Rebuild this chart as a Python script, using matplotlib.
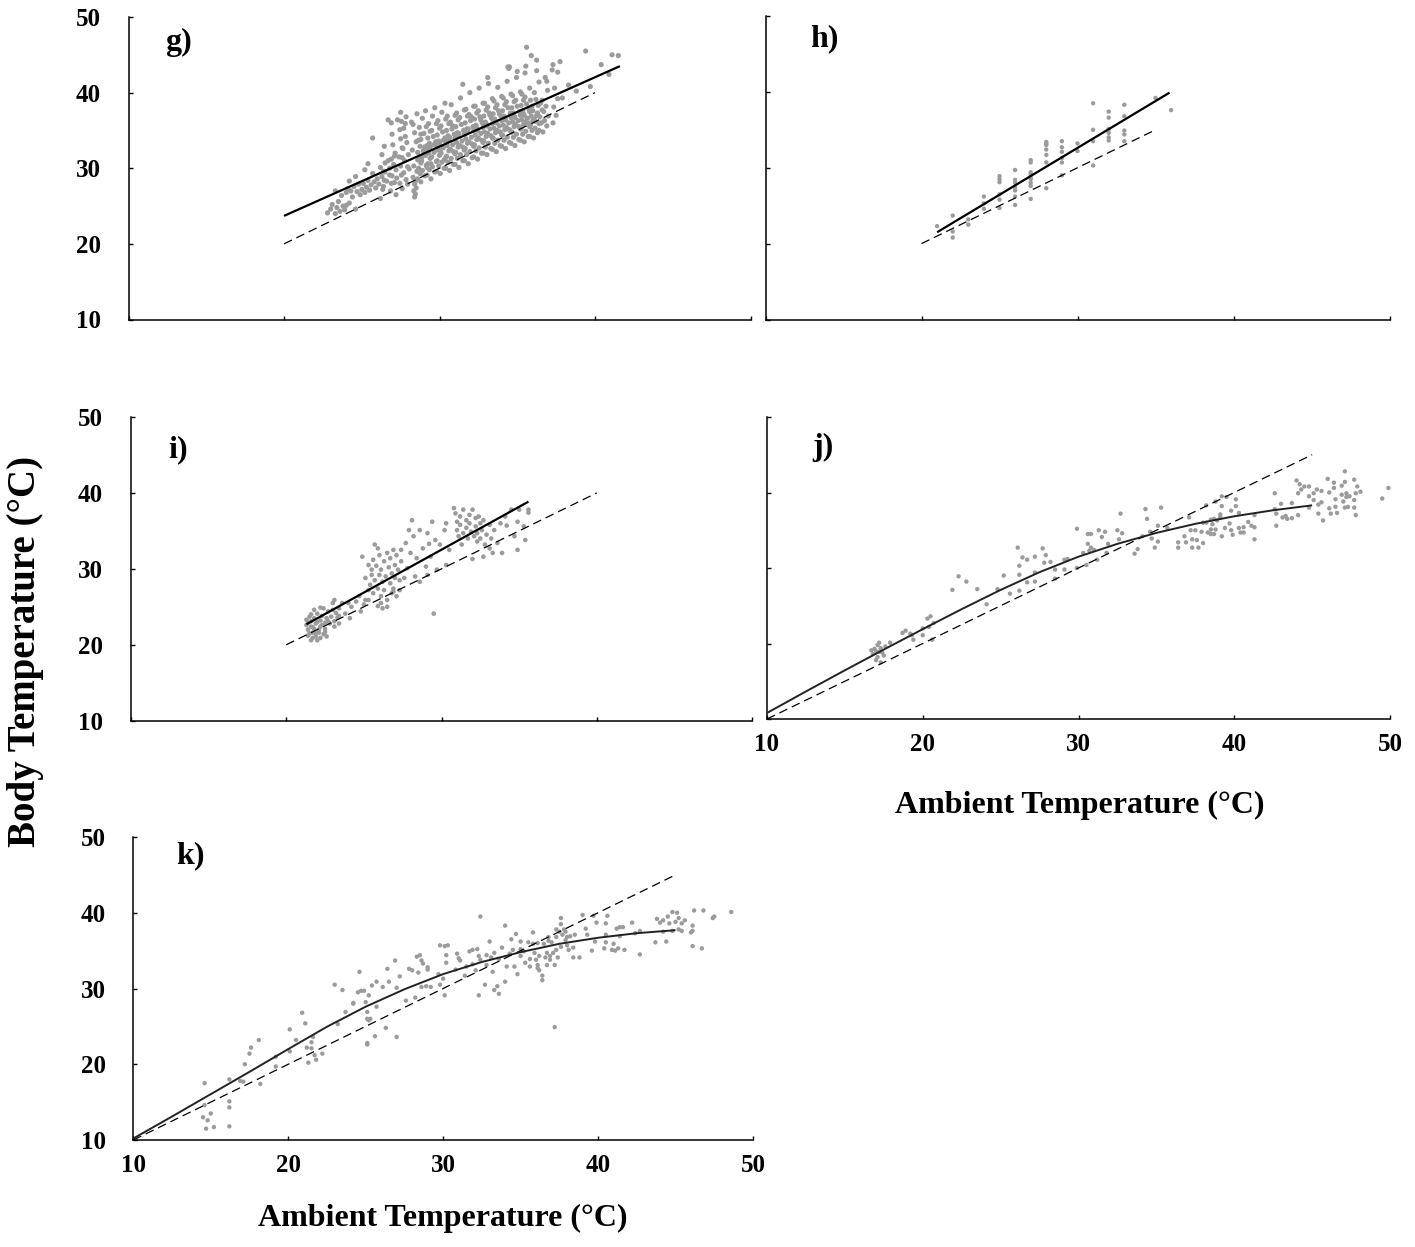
import matplotlib
matplotlib.use("Agg")
import matplotlib.pyplot as plt

plt.rcParams['font.family'] = ['Liberation Serif', 'DejaVu Serif']
plt.rcParams['font.weight'] = 'bold'

# ---------------- data ----------------
# g) ambient vs body temperature
g_ta = [22.8,23.0,23.1,23.3,23.4,23.5,23.6,23.7,23.8,23.9,
        24.0,24.1,24.2,24.3,24.4,24.5,24.6,24.7,24.8,24.9,
        25.0,25.1,25.2,25.3,25.4,25.5,25.6,25.7,25.8,25.9,
        26.0,26.1,26.2,26.3,26.4,26.5,26.6,26.7,26.8,26.9,
        24.2,24.6,25.2,25.7,26.7,27.5,25.4,23.3,24.0,26.2,
        26.85,27.1,26.95,27.2,27.05,26.9,27.15,27.0,26.8,27.25,27.1,26.95,27.2,
        27.6,27.85,27.7,27.95,27.75,28.0,27.65,27.9,27.8,27.7,28.05,27.6,27.85,27.95,
        28.4,28.45,28.35,28.5,28.4,28.45,28.3,28.55,28.35,28.6,28.25,28.5,28.4,28.3,28.55,
        28.8,29.05,28.9,29.15,28.85,29.1,28.95,29.2,28.8,29.0,29.15,28.9,29.1,29.2,28.85,29.05,
        29.45,29.7,29.55,29.8,29.5,29.65,29.4,29.75,29.6,29.5,29.8,29.55,29.7,29.45,29.65,
        30.05,30.3,30.15,30.4,30.1,30.25,30.0,30.35,30.2,30.1,30.4,30.15,30.3,30.05,30.25,30.35,
        30.65,30.9,30.75,31.0,30.7,30.85,30.6,30.95,30.8,30.7,31.0,30.75,30.9,30.65,30.85,
        31.25,31.5,31.35,31.6,31.3,31.45,31.2,31.55,31.4,31.3,31.6,31.35,31.5,31.25,
        31.85,32.1,31.95,32.2,31.9,32.05,31.8,32.15,32.0,31.9,32.2,31.95,32.1,31.85,32.05,
        32.45,32.7,32.55,32.8,32.5,32.65,32.4,32.75,32.6,32.5,32.8,32.55,32.7,32.45,32.65,
        33.05,33.3,33.15,33.4,33.1,33.25,33.0,33.35,33.2,33.1,33.4,33.15,33.3,33.05,33.25,
        33.65,33.9,33.75,34.0,33.7,33.85,33.6,33.95,33.8,33.7,34.0,33.75,33.9,33.65,33.85,
        34.25,34.5,34.35,34.6,34.3,34.45,34.2,34.55,34.4,34.3,34.6,34.35,34.5,34.25,34.45,
        34.85,35.1,34.95,35.2,34.9,35.05,34.8,35.15,35.0,34.9,35.2,34.95,35.1,34.85,
        35.45,35.7,35.55,35.8,35.5,35.65,35.4,35.75,35.6,35.5,35.8,35.55,35.7,35.45,
        36.05,36.3,36.15,36.4,36.1,36.25,36.0,36.35,36.2,36.1,36.4,36.15,36.3,
        36.65,36.9,36.75,37.0,36.7,36.85,36.6,36.95,36.8,
        37.3,37.5,37.35,37.6,37.4,37.25,
        35.6,35.9,36.25,37.3,37.75,37.6,39.4,41.1,41.5,40.4,40.9,39.7,36.9,38.3,38.8,37.9,
        26.9,27.3,27.8,28.2,33.1,31.5,34.4,34.5,35.0,35.5,36.25,
        # dense core, second pass
        26.35,26.45,26.4,26.5,26.3,26.45,
        27.45,27.55,27.5,27.4,27.6,27.5,27.45,27.55,
        28.6,28.75,28.65,28.8,28.7,28.6,28.75,28.65,28.8,28.7,
        29.2,29.35,29.25,29.4,29.3,29.2,29.35,29.25,29.4,29.3,
        29.8,29.95,29.85,30.0,29.9,29.8,29.95,29.85,30.0,29.9,
        30.4,30.55,30.45,30.6,30.5,30.4,30.55,30.45,30.6,30.5,
        31.0,31.15,31.05,31.2,31.1,31.0,31.15,31.05,31.2,31.1,
        31.6,31.75,31.65,31.8,31.7,31.6,31.75,31.65,31.8,31.7,
        32.2,32.35,32.25,32.4,32.3,32.2,32.35,32.25,32.4,32.3,
        32.8,32.95,32.85,33.0,32.9,32.8,32.95,32.85,33.0,32.9,
        33.4,33.55,33.45,33.6,33.5,33.4,33.55,33.45,33.6,33.5,
        34.0,34.15,34.05,34.2,34.1,34.0,34.15,34.05,34.2,34.1,
        34.6,34.75,34.65,34.8,34.7,34.6,34.75,34.65,34.8,34.7,
        35.2,35.35,35.25,35.4,35.3,35.2,35.35,35.25,35.4,35.3,
        35.8,35.95,35.85,36.0,35.9,35.8,35.95,35.85,
        36.4,36.55,36.45,36.6,36.5]
g_tb = [24.1,24.6,25.2,24.0,24.8,25.6,24.3,26.4,25.0,24.5,
        26.8,27.3,25.4,27.0,26.2,27.6,24.6,26.9,27.9,26.5,
        27.2,28.0,26.8,27.5,28.4,27.1,27.8,29.3,28.2,27.4,
        28.6,27.9,30.1,28.9,27.6,29.5,28.3,31.0,29.1,28.0,
        28.3,28.9,29.8,34.0,36.4,37.4,30.6,27.0,25.1,26.0,
        27.0,28.1,29.0,29.8,30.5,31.2,32.0,33.1,30.0,28.7,31.6,34.5,26.5,
        27.3,28.5,29.4,30.2,31.0,31.8,32.6,33.4,34.2,35.3,29.9,31.4,36.8,27.9,
        26.2,26.6,27.0,27.4,27.9,28.3,28.8,29.6,30.3,31.1,32.4,33.5,34.7,35.8,37.2,
        28.2,29.0,29.7,30.4,31.0,31.7,32.3,33.0,33.8,34.6,35.5,36.6,37.6,30.1,31.4,32.8,
        28.6,29.5,30.2,30.9,31.5,32.1,32.8,33.5,34.2,35.0,35.9,36.9,38.0,30.6,33.1,
        29.3,30.0,30.8,31.4,32.0,32.7,33.3,34.0,34.8,35.6,36.5,37.4,31.1,32.4,33.7,38.6,
        29.7,30.5,31.3,31.9,32.5,33.1,33.8,34.5,35.2,36.1,37.0,38.4,32.2,34.1,35.6,
        30.1,31.0,31.8,32.4,33.0,33.6,34.3,35.0,35.8,36.7,37.7,39.3,32.8,34.6,
        30.6,31.4,32.2,32.9,33.5,34.1,34.8,35.5,36.3,37.1,38.2,40.0,33.2,35.2,36.8,
        31.2,32.0,32.7,33.4,34.0,34.6,35.3,36.0,36.8,37.6,38.6,40.6,33.7,35.0,36.4,
        31.8,32.6,33.3,34.0,34.6,35.2,35.9,36.6,37.3,38.1,39.2,41.2,34.3,35.6,37.0,
        32.2,33.0,33.7,34.4,35.0,35.6,36.2,36.9,37.6,38.4,39.5,40.7,34.8,36.0,37.2,
        32.6,33.4,34.1,34.8,35.4,36.0,36.6,37.3,38.0,38.8,39.8,41.5,35.1,36.4,43.2,
        33.0,33.8,34.5,35.2,35.8,36.3,36.9,37.5,38.2,39.0,40.1,42.0,35.5,36.7,
        33.5,34.2,34.9,35.5,36.1,36.6,37.2,37.8,38.5,39.4,40.6,43.5,36.0,37.0,
        34.0,34.7,35.3,35.9,36.5,37.0,37.6,38.3,39.1,40.0,41.4,36.2,37.3,
        34.8,35.6,36.3,36.9,37.5,38.2,39.0,40.3,42.0,
        36.0,37.0,38.1,39.2,40.6,43.0,
        46.0,44.9,44.3,43.7,44.1,42.7,45.5,45.0,44.9,43.7,42.4,40.8,41.5,41.0,40.2,39.3,
        36.0,36.4,35.9,36.1,42.0,41.1,43.4,43.4,42.8,42.6,42.9,
        # dense core, second pass
        27.2,28.4,29.6,30.7,31.8,32.9,
        28.0,29.1,30.3,31.5,32.7,33.9,35.1,36.2,
        28.6,29.3,30.0,30.7,31.4,32.1,32.9,33.7,34.5,35.4,
        29.1,29.8,30.6,31.3,32.0,32.6,33.3,34.0,34.9,35.9,
        29.6,30.3,31.0,31.7,32.4,33.0,33.6,34.4,35.3,36.3,
        30.0,30.8,31.6,32.3,33.0,33.6,34.3,35.0,35.9,36.9,
        30.5,31.3,32.1,32.8,33.4,34.0,34.7,35.5,36.4,37.3,
        31.0,31.8,32.6,33.3,33.9,34.5,35.2,36.0,36.9,37.8,
        31.5,32.3,33.1,33.8,34.4,35.0,35.7,36.5,37.3,38.2,
        32.0,32.8,33.6,34.2,34.8,35.4,36.1,36.9,37.7,38.6,
        32.5,33.3,34.0,34.7,35.3,35.9,36.5,37.2,38.0,38.9,
        32.9,33.7,34.4,35.1,35.7,36.3,36.9,37.6,38.4,39.3,
        33.3,34.1,34.8,35.5,36.1,36.7,37.3,38.0,38.8,39.6,
        33.7,34.5,35.2,35.8,36.4,37.0,37.6,38.3,39.0,39.8,
        34.2,35.0,35.7,36.3,36.9,37.5,38.2,39.0,
        35.0,36.0,36.8,37.7,38.6]
g_fit_ta = [20.0, 41.6]
g_fit_tb = [23.7, 43.5]
g_iso = [20.0, 40.0]

# h)
h_ta = [21, 22, 22, 22, 23, 23, 24, 24, 24,
        25, 25, 25, 25, 25, 25,
        26, 26, 26, 26, 26, 26, 26,
        27, 27, 27, 27, 27, 27, 27, 27, 27,
        28, 28, 28, 28, 28, 28, 28,
        29, 29, 29, 29, 29, 29,
        30, 30, 31, 31, 31, 31,
        32, 32, 32, 32, 32, 32,
        33, 33, 33, 33, 33, 35, 36]
h_tb = [22.3, 23.7, 21.6, 20.8, 23.2, 22.5, 26.2, 25.3, 24.6,
        28.9, 28.5, 28.1, 26.5, 25.8, 24.7,
        29.7, 28.4, 28.0, 27.4, 27.0, 26.2, 25.1,
        31.0, 30.7, 29.4, 29.1, 28.7, 28.5, 28.0, 27.6, 25.9,
        33.4, 33.2, 33.0, 32.4, 31.7, 30.7, 27.3,
        33.5, 32.7, 32.1, 31.3, 30.7, 29.0,
        33.2, 32.2, 38.5, 35.0, 33.5, 30.3,
        37.4, 36.6, 35.1, 34.6, 34.0, 33.6,
        38.3, 36.8, 34.9, 34.4, 33.5, 39.2, 37.6]
h_fit_ta = [21.0, 35.9]
h_fit_tb = [21.5, 39.9]
h_iso = [20.0, 35.0]

# i)
i_ta = [21.3,21.3,21.4,21.4,21.5,21.6,21.6,21.7,21.7,21.8,
        21.8,21.8,21.9,21.9,22.0,22.0,22.1,22.2,22.2,22.2,
        22.3,22.4,22.4,22.5,22.5,22.6,22.6,22.7,22.8,22.9,
        23.0,23.1,23.1,23.2,23.3,23.4,23.4,23.0,22.2,21.6,
        21.4,21.5,21.7,21.9,22.0,22.1,22.3,22.5,22.7,21.6,
        23.6,23.8,24.0,24.2,24.5,24.7,24.8,25.0,25.1,24.1,23.1,23.4,
        25.3,25.3,25.4,25.5,25.5,25.6,25.6,25.7,25.7,25.8,
        25.9,25.9,26.0,26.0,26.1,26.1,26.2,26.2,26.3,26.3,
        26.4,26.5,26.5,26.6,26.7,26.7,26.8,26.8,26.9,26.9,
        27.0,27.0,27.1,27.1,27.2,27.3,27.3,27.4,24.9,25.1,
        26.1,26.5,26.9,25.9,25.3,
        27.6,27.7,27.8,28.0,28.1,28.2,28.3,28.4,28.6,28.6,
        28.8,29.0,29.1,29.2,29.3,29.4,29.5,29.6,29.7,29.9,
        30.2,30.3,30.3,30.5,27.9,27.4,29.1,
        30.8,30.9,31.0,31.0,31.1,31.2,31.2,31.3,31.4,31.4,
        31.6,31.6,31.7,31.8,31.8,31.9,32.0,32.0,32.1,32.2,
        32.2,32.3,32.3,32.4,32.5,32.5,32.6,32.7,32.7,32.8,
        32.9,33.1,33.1,33.2,33.3,33.4,
        33.6,33.8,33.9,34.1,34.2,34.5,34.7,34.9,34.9,35.0,35.3,35.4,35.6,35.6]
i_tb = [23.3,22.6,22.0,21.2,23.7,23.1,22.4,21.6,20.9,24.6,
        23.5,22.1,21.1,22.8,20.6,24.1,21.6,23.2,20.9,22.4,
        23.8,21.4,24.8,22.9,22.1,23.5,21.1,24.4,22.8,23.7,
        24.6,23.1,22.4,24.2,23.6,24.8,22.8,25.5,24.9,20.6,
        22.9,21.5,22.3,21.5,23.0,22.0,22.6,21.7,23.1,24.0,
        25.5,24.1,25.5,25.0,25.7,26.4,24.4,25.3,25.9,23.5,25.9,23.8,
        27.2,25.9,27.9,29.2,29.9,31.2,26.8,28.5,33.2,30.4,
        25.1,27.4,29.2,31.8,26.4,29.9,28.3,24.8,31.0,27.2,
        29.0,32.1,25.9,30.2,28.1,31.4,26.8,29.4,32.5,27.4,
        30.5,28.8,26.4,31.8,29.9,27.2,28.5,31.0,31.6,28.8,
        25.5,25.0,27.0,32.7,30.5,
        28.8,33.4,30.1,32.1,36.4,34.3,29.0,31.4,28.3,35.1,
        32.7,30.3,34.7,33.3,31.6,36.2,24.1,33.8,29.9,33.2,
        35.1,36.0,30.5,32.5,35.1,32.5,29.2,
        38.0,37.3,36.2,35.1,34.3,36.9,35.8,33.2,37.8,34.7,
        36.4,35.4,34.0,37.1,36.0,34.9,37.8,31.3,34.3,36.7,
        35.6,33.6,34.7,36.9,36.0,34.0,35.1,31.6,36.4,33.2,
        34.5,32.7,35.8,34.0,32.1,35.1,
        33.4,36.0,32.1,36.9,35.7,37.8,34.3,36.2,32.5,37.8,35.6,33.8,37.4,37.8]
i_fit_ta = [21.3, 35.6]
i_fit_tb = [22.7, 38.85]
i_iso = [20.0, 40.0]

# j)
j_ta = [17.0,16.8,17.1,17.3,17.2,16.9,17.4,17.0,17.3,17.1,16.7,17.5,17.2,17.6,17.9,
        18.7,19.3,19.4,20.0,20.0,20.3,20.5,20.4,20.7,20.6,18.9,19.2,
        21.9,22.3,22.8,23.5,24.1,24.8,25.2,25.6,26.1,26.2,26.2,26.2,26.4,26.7,26.7,
        27.2,27.2,27.2,27.7,27.9,27.8,28.2,28.5,28.5,29.1,29.3,29.1,29.9,29.9,
        30.5,30.6,30.8,30.6,30.8,30.7,31.0,30.3,31.3,31.5,31.7,31.8,31.9,31.2,
        32.5,32.7,32.6,32.8,33.6,33.8,34.1,34.3,34.4,34.6,34.7,34.9,35.1,35.1,35.3,35.7,
        36.4,36.4,36.8,36.9,37.1,37.2,37.3,37.3,37.5,37.6,37.7,37.9,38.0,38.0,
        38.2,38.2,38.3,38.5,38.5,38.5,38.6,38.8,38.7,38.8,38.7,38.9,39.1,39.2,39.2,39.1,
        39.2,39.5,39.4,39.7,39.8,39.8,39.9,40.1,40.1,40.3,40.3,40.4,40.6,40.6,40.9,41.1,
        41.3,41.3,41.3,42.6,42.6,42.7,42.7,43.0,43.1,43.3,43.4,43.7,43.7,44.0,44.1,44.1,
        44.2,44.3,44.5,44.8,44.8,44.8,45.1,45.1,45.3,45.4,45.4,45.6,45.6,45.7,46.0,46.1,
        46.1,46.2,46.4,46.4,46.5,46.5,46.6,46.9,46.9,47.0,47.1,47.1,47.1,47.2,47.2,47.3,
        47.4,47.7,47.7,47.7,47.8,47.8,47.9,48.1,49.5,49.9]
j_tb = [19.0,18.6,18.2,19.4,20.1,19.3,18.8,17.8,17.5,19.8,19.1,18.4,18.9,19.6,20.1,
        21.4,21.1,20.5,22.0,21.1,23.3,23.6,22.2,22.7,20.5,21.7,21.3,
        27.1,28.9,28.2,27.2,25.2,27.2,29.0,26.6,32.7,30.3,29.1,27.0,31.4,31.1,28.1,
        31.5,29.4,28.2,32.6,31.7,30.7,30.8,29.8,28.6,31.1,31.2,29.8,35.2,30.0,
        30.4,34.5,34.5,33.2,32.7,32.3,32.4,32.0,35.0,34.1,34.8,32.0,33.2,31.1,
        35.0,37.2,33.8,34.6,31.9,32.5,34.2,37.8,36.5,34.8,33.9,32.7,35.6,33.5,38.0,35.3,
        33.4,32.7,34.2,33.4,36.7,35.0,33.8,32.7,35.0,33.7,32.7,34.8,33.3,36.0,
        38.3,36.0,34.7,35.1,36.4,34.5,35.8,38.8,36.5,35.1,34.5,36.3,37.1,39.5,38.2,36.7,
        34.2,39.4,35.3,35.9,37.6,35.0,34.4,39.1,38.2,35.3,37.3,34.7,35.4,34.7,36.1,35.6,
        33.8,35.4,37.0,39.9,37.8,37.2,35.6,38.5,36.7,36.9,36.5,36.6,38.6,41.6,39.9,37.0,
        41.1,40.4,40.8,40.8,39.5,38.0,39.0,39.9,40.4,38.4,37.2,40.2,38.7,36.3,41.8,40.0,
        37.9,37.2,41.3,40.6,39.1,38.1,37.3,40.9,39.7,38.8,38.0,42.8,41.4,39.9,39.4,38.1,
        39.5,41.7,39.0,38.0,37.0,39.9,40.8,40.1,39.2,40.6]
j_curve_ta = [10.0, 12.5, 15.0, 17.5, 20.0, 22.5, 25.0, 27.5, 30.0,
              32.5, 35.0, 37.5, 40.0, 42.5, 45.0]
j_curve_tb = [10.8, 13.65, 16.45, 19.2, 21.9, 24.55, 27.1, 29.45, 31.5,
              33.2, 34.65, 35.85, 36.85, 37.65, 38.3]
j_iso = [10.0, 45.0]

# k)
k_ta = [14.6,14.5,14.8,15.0,14.7,15.2,14.6,16.2,16.2,16.2,16.2,16.9,17.1,17.2,17.5,17.6,
        18.1,18.2,19.2,19.2,20.1,20.1,20.5,20.9,21.1,21.2,21.3,21.5,21.5,21.6,21.7,21.8,22.2,
        23.0,23.2,23.5,23.7,24.2,24.2,24.5,24.6,24.7,24.9,25.0,25.1,25.1,25.1,25.1,25.2,
        25.2,25.3,25.4,25.6,25.7,25.7,26.1,26.3,26.4,26.5,26.9,27.0,27.0,27.2,27.6,27.8,
        28.0,28.2,28.3,28.4,28.5,28.6,28.6,28.7,28.9,29.0,29.0,29.2,29.7,29.8,29.8,30.1,
        30.1,30.2,30.3,30.2,30.0,
        30.9,31.0,31.1,30.8,31.4,31.5,31.7,31.9,31.9,32.2,32.1,32.3,32.3,32.4,32.4,32.7,
        32.8,32.8,33.0,33.1,33.2,33.3,33.3,33.5,33.6,33.6,33.8,34.0,34.0,34.1,34.3,34.4,
        34.5,34.6,34.7,34.8,35.0,35.0,35.0,35.2,35.3,35.5,35.6,35.6,35.8,35.8,35.9,36.0,
        36.1,36.1,36.1,36.2,36.2,36.4,36.4,36.5,36.6,36.7,36.7,36.8,36.8,36.9,36.9,37.0,
        37.1,37.2,37.2,37.3,37.3,37.3,37.4,37.5,37.6,37.6,37.6,37.7,37.8,37.9,37.9,38.0,
        38.0,38.1,38.2,38.4,38.4,38.5,38.8,39.0,39.2,39.3,39.6,39.7,39.8,39.9,
        40.4,40.5,40.5,40.5,40.6,40.9,41.0,41.1,41.2,41.3,41.4,41.4,41.6,41.7,
        42.2,42.4,42.7,42.7,43.7,43.8,44.0,44.2,44.2,44.4,44.5,44.6,44.8,44.8,45.0,45.1,
        45.2,45.2,45.4,45.4,45.6,46.0,46.1,46.1,46.1,46.2,46.7,46.8,47.4,47.5,48.6]
k_tb = [17.5,13.0,12.6,13.5,11.5,11.7,14.6,18.0,15.1,14.3,11.8,17.8,17.7,20.0,21.4,22.2,
        23.2,17.4,21.0,19.7,21.7,24.6,23.2,26.8,25.4,22.2,20.2,22.1,22.9,23.6,21.2,20.6,21.4,
        30.5,25.3,29.8,26.9,28.1,28.0,29.5,32.2,29.7,29.7,28.2,26.9,26.0,22.8,22.6,25.8,
        29.1,26.0,30.4,23.7,27.6,30.9,30.2,24.8,32.6,30.9,33.7,30.1,23.6,31.6,28.4,32.6,
        32.4,28.8,34.2,32.1,34.4,33.7,30.2,33.3,30.3,32.8,32.5,30.2,31.9,35.7,30.5,35.6,
        29.1,34.4,35.7,33.4,31.3,
        34.6,34.0,33.7,32.5,31.7,32.9,34.9,33.2,35.1,35.2,32.4,34.3,29.1,39.5,33.8,30.5,
        34.4,33.1,36.2,34.1,32.2,34.7,29.8,30.3,29.3,33.9,35.4,38.3,30.9,32.9,34.6,36.5,
        35.1,32.9,37.2,31.9,36.2,35.2,34.3,34.9,33.4,36.1,33.9,32.9,37.4,35.9,34.7,33.8,
        32.7,33.1,36.0,34.3,32.4,31.7,31.1,35.9,34.1,33.1,34.7,36.3,36.8,34.3,33.8,36.1,
        34.7,24.9,33.1,37.8,35.1,36.8,34.1,37.5,39.3,38.5,35.5,37.1,37.8,36.4,37.5,35.7,
        36.8,35.1,36.9,35.4,34.1,37.1,34.1,39.7,37.9,37.1,35.0,39.6,36.2,38.7,
        35.3,38.6,36.1,37.1,39.6,35.1,35.9,35.0,37.9,35.3,38.1,36.9,38.1,35.1,
        38.7,37.3,37.6,34.5,36.1,39.2,38.7,37.5,39.0,36.2,39.5,38.6,40.1,37.6,38.8,40.0,
        39.3,37.8,38.6,37.6,39.0,37.4,37.6,38.3,35.6,40.3,35.3,40.3,39.3,39.5,40.1]
k_curve_ta = [10.0, 12.5, 15.0, 17.5, 20.0, 22.5, 25.0, 27.5, 30.0,
              32.5, 35.0, 37.5, 40.0, 42.5, 45.0]
k_curve_tb = [10.2, 13.1, 16.05, 19.0, 22.0, 24.95, 27.6, 29.9, 31.9,
              33.5, 34.8, 35.9, 36.7, 37.3, 37.7]
k_iso = [10.0, 45.0]

ticks = [10, 20, 30, 40, 50]
tick_labels = ['10', '20', '30', '40', '50']

# ---------------- figure ----------------
W, H = 1415, 1247
fig = plt.figure(figsize=(W / 100, H / 100), dpi=100)

POINT_COLOR = '#9b9b9b'
TICK_FS = 18


def make_axes(left, top, right, bottom):
    return fig.add_axes([left / W, 1 - bottom / H, (right - left) / W, (bottom - top) / H])


def style(ax, show_x, show_y):
    ax.set_xlim(10, 50)
    ax.set_ylim(10, 50)
    for side in ('top', 'right'):
        ax.spines[side].set_visible(False)
    for side in ('left', 'bottom'):
        ax.spines[side].set_linewidth(1.1)
        ax.spines[side].set_color('black')
    ax.set_xticks(ticks)
    ax.set_yticks(ticks)
    ax.set_xticklabels(tick_labels if show_x else [])
    ax.set_yticklabels(tick_labels if show_y else [])
    ax.tick_params(axis='both', direction='in', length=3, width=1, labelsize=TICK_FS)
    ax.tick_params(axis='y', pad=20)
    ax.tick_params(axis='x', pad=10)
    for lab in ax.get_xticklabels() + ax.get_yticklabels():
        lab.set_fontweight('bold')


def draw(ax, ta, tb, fit_ta, fit_tb, iso, fit_lw, fit_color, size=10):
    ax.scatter(ta, tb, s=size, c=POINT_COLOR, edgecolors='none', zorder=2, clip_on=False)
    ax.plot(iso, iso, color='black', lw=0.9, linestyle=(0, (7, 4)), zorder=3)
    ax.plot(fit_ta, fit_tb, color=fit_color, lw=fit_lw, zorder=4, solid_capstyle='butt')


def panel_label(ax, txt, fx, fy):
    ax.text(fx, fy, txt, transform=ax.transAxes, fontsize=23, fontweight='bold',
            va='baseline', ha='left')


ax_g = make_axes(128.5, 17, 750.5, 319.5)
style(ax_g, False, True)
draw(ax_g, g_ta, g_tb, g_fit_ta, g_fit_tb, g_iso, 1.6, 'black', size=14)
panel_label(ax_g, 'g)', 0.059, 0.89)

ax_h = make_axes(765.5, 16, 1389.5, 319.5)
style(ax_h, False, False)
draw(ax_h, h_ta, h_tb, h_fit_ta, h_fit_tb, h_iso, 1.6, 'black')
panel_label(ax_h, 'h)', 0.071, 0.90)

ax_i = make_axes(131, 417, 752, 720.7)
style(ax_i, False, True)
draw(ax_i, i_ta, i_tb, i_fit_ta, i_fit_tb, i_iso, 1.6, 'black', size=11)
panel_label(ax_i, 'i)', 0.06, 0.868)

ax_j = make_axes(767, 417, 1390, 719)
style(ax_j, True, False)
draw(ax_j, j_ta, j_tb, j_curve_ta, j_curve_tb, j_iso, 1.4, '#222222')
panel_label(ax_j, 'j)', 0.072, 0.874)

ax_k = make_axes(133.3, 837, 753, 1140)
style(ax_k, True, True)
draw(ax_k, k_ta, k_tb, k_curve_ta, k_curve_tb, k_iso, 1.4, '#222222')
panel_label(ax_k, 'k)', 0.07, 0.915)

# axis titles
fig.text(1080 / W, 1 - 805 / H, 'Ambient Temperature (°C)', ha='center', va='center',
         fontsize=23, fontweight='bold')
fig.text(443 / W, 1 - 1218 / H, 'Ambient Temperature (°C)', ha='center', va='center',
         fontsize=23, fontweight='bold')
fig.text(26 / W, 1 - 651 / H, 'Body Temperature (°C)', ha='center', va='center',
         rotation=90, fontsize=28, fontweight='bold')

fig.savefig('out.png', dpi=100)
